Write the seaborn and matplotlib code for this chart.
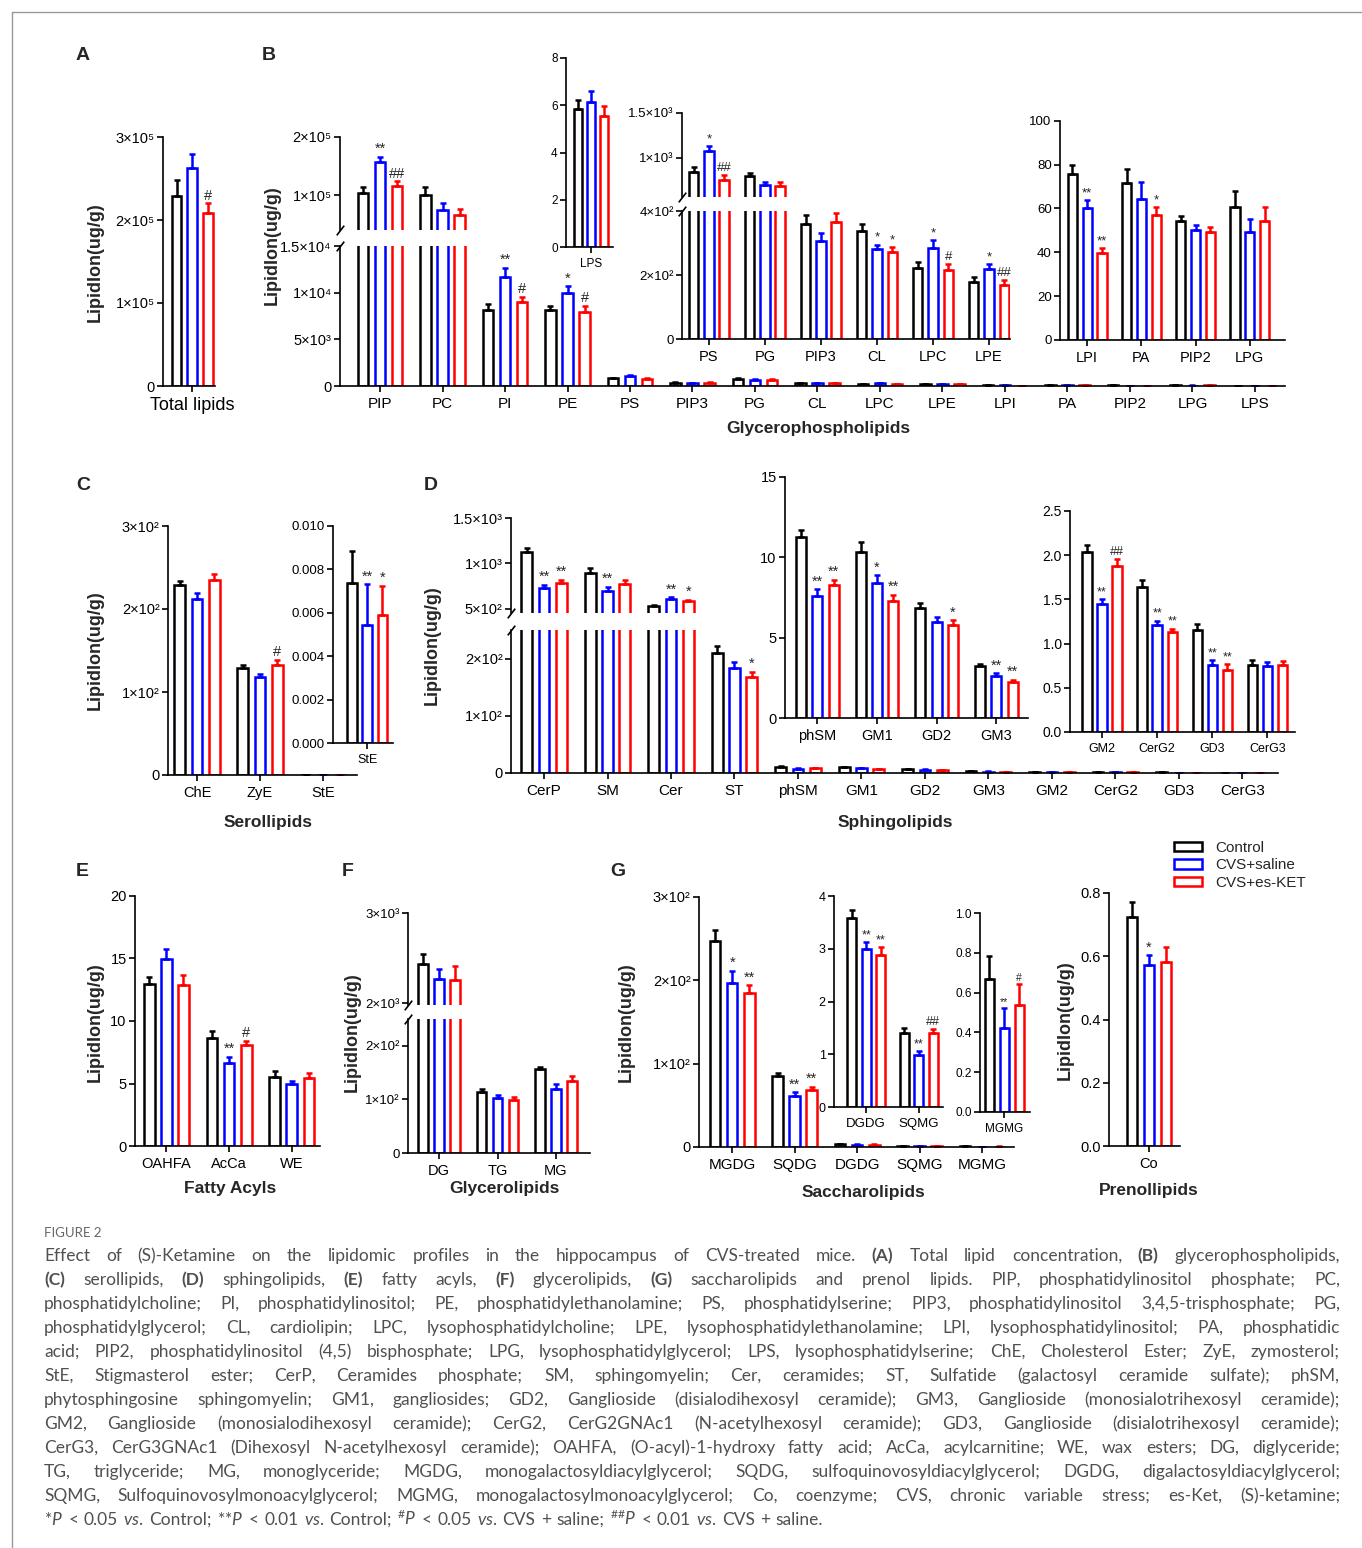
import numpy as np
import pandas as pd
import matplotlib
matplotlib.use("Agg")
import matplotlib.pyplot as plt
import seaborn as sns
from matplotlib.patches import Patch
from matplotlib.lines import Line2D

groups = ["Control", "CVS+saline", "CVS+es-KET"]
colors = ["#000000", "#0000ff", "#ff0000"]

# ---- data (mean and SEM) ----
total_names = ["Total lipids"]
total_ctrl = [2.29e5]
total_ctrl_sem = [0.19e5]
total_sal = [2.63e5]
total_sal_sem = [0.17e5]
total_ket = [2.08e5]
total_ket_sem = [0.12e5]
total_sig_sal = [""]
total_sig_ket = ["#"]

gp_names = ["PIP", "PC", "PI", "PE", "PS", "PIP3", "PG", "CL", "LPC", "LPE",
            "LPI", "PA", "PIP2", "LPG", "LPS"]
gp_ctrl = [1.04e5, 1.00e5, 8140, 8100, 837, 358, 796, 339, 222, 178, 75.5, 71.7, 54.1, 60.5, 5.84]
gp_ctrl_sem = [0.10e5, 0.15e5, 660, 470, 59, 29, 37, 20, 18, 16, 4.1, 6.3, 2.4, 7.6, 0.39]
gp_sal = [1.58e5, 0.75e5, 11640, 10000, 1074, 307, 696, 280, 284, 219, 60.3, 64.4, 50.2, 49.4, 6.12]
gp_sal_sem = [0.08e5, 0.12e5, 1040, 680, 56, 23, 37, 15, 25, 15, 3.4, 7.8, 2.2, 5.9, 0.47]
gp_ket = [1.17e5, 0.67e5, 9000, 7960, 752, 367, 681, 271, 216, 169, 39.8, 56.8, 49.1, 54.4, 5.54]
gp_ket_sem = [0.07e5, 0.10e5, 540, 610, 59, 26, 49, 16, 18, 15, 2.1, 3.8, 2.3, 6.2, 0.44]
gp_sig_sal = ["**", "", "**", "*", "*", "", "", "*", "*", "*", "**", "", "", "", ""]
gp_sig_ket = ["##", "", "#", "#", "##", "", "", "*", "#", "##", "**", "*", "", "", ""]

sero_names = ["ChE", "ZyE", "StE"]
sero_ctrl = [229, 128.5, 0.00738]
sero_ctrl_sem = [5, 4.5, 0.00147]
sero_sal = [212, 118, 0.00546]
sero_sal_sem = [7, 4, 0.00186]
sero_ket = [235, 133, 0.0059]
sero_ket_sem = [7, 5.5, 0.00135]
sero_sig_sal = ["", "", "**"]
sero_sig_ket = ["", "#", "*"]

sph_names = ["CerP", "SM", "Cer", "ST", "phSM", "GM1", "GD2", "GM3",
             "GM2", "CerG2", "GD3", "CerG3"]
sph_ctrl = [1125, 897, 529, 209, 11.25, 10.35, 6.85, 3.25, 2.04, 1.64, 1.15, 0.76]
sph_ctrl_sem = [40, 55, 19, 13, 0.45, 0.58, 0.28, 0.13, 0.07, 0.08, 0.07, 0.05]
sph_sal = [732, 695, 610, 184, 7.6, 8.42, 5.95, 2.62, 1.45, 1.21, 0.76, 0.75]
sph_sal_sem = [33, 48, 19, 10, 0.4, 0.48, 0.33, 0.15, 0.05, 0.05, 0.05, 0.04]
sph_ket = [787, 776, 585, 167, 8.3, 7.28, 5.8, 2.27, 1.88, 1.13, 0.70, 0.76]
sph_ket_sem = [37, 40, 18, 10, 0.3, 0.38, 0.3, 0.12, 0.08, 0.04, 0.07, 0.04]
sph_sig_sal = ["**", "**", "**", "", "**", "*", "", "**", "**", "**", "**", ""]
sph_sig_ket = ["**", "", "*", "*", "**", "**", "*", "**", "##", "**", "**", ""]

fa_names = ["OAHFA", "AcCa", "WE"]
fa_ctrl = [12.93, 8.67, 5.55]
fa_ctrl_sem = [0.62, 0.56, 0.45]
fa_sal = [14.93, 6.64, 4.96]
fa_sal_sem = [0.83, 0.51, 0.24]
fa_ket = [12.85, 8.08, 5.44]
fa_ket_sem = [0.83, 0.35, 0.43]
fa_sig_sal = ["", "**", ""]
fa_sig_ket = ["", "#", ""]

gl_names = ["DG", "TG", "MG"]
gl_ctrl = [2433, 113, 156]
gl_ctrl_sem = [115, 7, 5]
gl_sal = [2267, 103, 120]
gl_sal_sem = [111, 6, 8]
gl_ket = [2259, 98.4, 134.6]
gl_ket_sem = [156, 6.6, 8.4]
gl_sig_sal = ["", "", ""]
gl_sig_ket = ["", "", ""]

sac_names = ["MGDG", "SQDG", "DGDG", "SQMG", "MGMG"]
sac_ctrl = [247.6, 84.8, 3.59, 1.41, 0.667]
sac_ctrl_sem = [12.4, 4.0, 0.14, 0.08, 0.117]
sac_sal = [197, 61.6, 2.99, 0.98, 0.42]
sac_sal_sem = [14.6, 4.4, 0.14, 0.08, 0.103]
sac_ket = [184.8, 68.8, 2.89, 1.40, 0.539]
sac_ket_sem = [9.6, 3.6, 0.14, 0.08, 0.106]
sac_sig_sal = ["*", "**", "**", "**", "**"]
sac_sig_ket = ["**", "**", "**", "##", "#"]

pre_names = ["Co"]
pre_ctrl = [0.723]
pre_ctrl_sem = [0.049]
pre_sal = [0.571]
pre_sal_sem = [0.033]
pre_ket = [0.582]
pre_ket_sem = [0.047]
pre_sig_sal = ["*"]
pre_sig_ket = [""]

cap_lines = [
    "Effect of (S)-Ketamine on the lipidomic profiles in the hippocampus of CVS-treated mice. (A) Total lipid concentration, (B) glycerophospholipids,",
    "(C) serollipids, (D) sphingolipids, (E) fatty acyls, (F) glycerolipids, (G) saccharolipids and prenol lipids. PIP, phosphatidylinositol phosphate; PC,",
    "phosphatidylcholine; PI, phosphatidylinositol; PE, phosphatidylethanolamine; PS, phosphatidylserine; PIP3, phosphatidylinositol 3,4,5-trisphosphate; PG,",
    "phosphatidylglycerol; CL, cardiolipin; LPC, lysophosphatidylcholine; LPE, lysophosphatidylethanolamine; LPI, lysophosphatidylinositol; PA, phosphatidic",
    "acid; PIP2, phosphatidylinositol (4,5) bisphosphate; LPG, lysophosphatidylglycerol; LPS, lysophosphatidylserine; ChE, Cholesterol Ester; ZyE, zymosterol;",
    "StE, Stigmasterol ester; CerP, Ceramides phosphate; SM, sphingomyelin; Cer, ceramides; ST, Sulfatide (galactosyl ceramide sulfate); phSM,",
    "phytosphingosine sphingomyelin; GM1, gangliosides; GD2, Ganglioside (disialodihexosyl ceramide); GM3, Ganglioside (monosialotrihexosyl ceramide);",
    "GM2, Ganglioside (monosialodihexosyl ceramide); CerG2, CerG2GNAc1 (N-acetylhexosyl ceramide); GD3, Ganglioside (disialotrihexosyl ceramide);",
    "CerG3, CerG3GNAc1 (Dihexosyl N-acetylhexosyl ceramide); OAHFA, (O-acyl)-1-hydroxy fatty acid; AcCa, acylcarnitine; WE, wax esters; DG, diglyceride;",
    "TG, triglyceride; MG, monoglyceride; MGDG, monogalactosyldiacylglycerol; SQDG, sulfoquinovosyldiacylglycerol; DGDG, digalactosyldiacylglycerol;",
    "SQMG, Sulfoquinovosylmonoacylglycerol; MGMG, monogalactosylmonoacylglycerol; Co, coenzyme; CVS, chronic variable stress; es-Ket, (S)-ketamine;",
    r"*$P$ < 0.05 $vs.$ Control; **$P$ < 0.01 $vs.$ Control; $^{\#}P$ < 0.05 $vs.$ CVS + saline; $^{\#\#}P$ < 0.01 $vs.$ CVS + saline.",
]
bold_words = {"(A)", "(B)", "(C)", "(D)", "(E)", "(F)", "(G)"}

# ---- style ----
sns.set_style("ticks")
plt.rcParams["font.family"] = ["Liberation Sans", "DejaVu Sans"]
plt.rcParams["mathtext.fontset"] = "custom"
plt.rcParams["mathtext.rm"] = "Lato"
plt.rcParams["mathtext.it"] = "Lato:italic"
plt.rcParams["mathtext.bf"] = "Lato:bold"

W, H = 1362, 1548
fig = plt.figure(figsize=(W / 100, H / 100), dpi=100)
fig.patch.set_facecolor("white")

SUP = str.maketrans("0123456789", "⁰¹²³⁴⁵⁶⁷⁸⁹")


def sci(v):
    if v == 0:
        return "0"
    e = int(np.floor(np.log10(v) + 1e-9))
    m = v / 10 ** e
    return f"{m:g}×10" + str(e).translate(SUP)


def fmt_ticks(ticks, kind):
    if kind == "sci":
        return [sci(t) for t in ticks]
    if kind == "int":
        return [f"{t:g}" for t in ticks]
    return [f"{t:.{kind}f}" for t in ticks]


def add_ax(x0, y0, x1, y1):
    return fig.add_axes([x0 / W, 1 - y1 / H, (x1 - x0) / W, (y1 - y0) / H])


def make_table(names, ctrl, ctrl_sem, sal, sal_sem, ket, ket_sem, sig_sal, sig_ket):
    rows = []
    sigs = [[""] * len(names), sig_sal, sig_ket]
    for g, means, sems, sg in zip(groups, [ctrl, sal, ket], [ctrl_sem, sal_sem, ket_sem], sigs):
        for n, m, s, x in zip(names, means, sems, sg):
            rows.append(dict(lipid=n, group=g, mean=m, sem=s, sig=x))
    return pd.DataFrame(rows)


def draw(ax, tab, names, sig_names=(), sig_fs=10.5, cap=2.2):
    sub = tab[tab["lipid"].isin(names)]
    sns.barplot(data=sub, x="lipid", y="mean", hue="group", order=names,
                hue_order=groups, palette=colors, saturation=1, fill=False,
                width=0.82, gap=0.38, linewidth=1.8, errorbar=None,
                legend=False, ax=ax)
    bar_conts = list(ax.containers)[:3]
    for cont, g, c in zip(bar_conts, groups, colors):
        for bar in cont:
            xc = bar.get_x() + bar.get_width() / 2
            name = names[int(round(xc))]
            row = sub[(sub["lipid"] == name) & (sub["group"] == g)].iloc[0]
            ax.errorbar(xc, row["mean"], yerr=[[0], [row["sem"]]], fmt="none",
                        ecolor=c, elinewidth=1.8, capsize=cap, capthick=1.8)
            if name in sig_names and row["sig"]:
                ax.annotate(row["sig"], (xc, row["mean"] + row["sem"]),
                            xytext=(0, 0.5), textcoords="offset points",
                            ha="center", va="bottom", fontsize=sig_fs)


def style(ax, ylim, ticks, kind, yfs, xlim, xfs, bottom=True):
    ax.set_xlim(*xlim)
    ax.set_ylim(*ylim)
    ax.set_yticks(ticks)
    ax.set_yticklabels(fmt_ticks(ticks, kind), fontsize=yfs)
    ax.tick_params(length=4, width=1.2, pad=2, colors="k")
    ax.tick_params(axis="x", labelsize=xfs, pad=4)
    ax.set_xlabel("")
    ax.set_ylabel("")
    ax.patch.set_alpha(0)
    for s in ("top", "right"):
        ax.spines[s].set_visible(False)
    for s in ("left", "bottom"):
        ax.spines[s].set_linewidth(1.2)
        ax.spines[s].set_color("k")
    if not bottom:
        ax.spines["bottom"].set_visible(False)
        ax.tick_params(axis="x", bottom=False, labelbottom=False)


def brk(ax, ypos):
    ax.plot([0], [ypos], transform=ax.transAxes, marker=[(-1, -1.3), (1, 1.3)],
            markersize=7, linestyle="none", color="k", mec="k", mew=1.2, clip_on=False)


total_tab = make_table(total_names, total_ctrl, total_ctrl_sem, total_sal, total_sal_sem,
                       total_ket, total_ket_sem, total_sig_sal, total_sig_ket)
gp_tab = make_table(gp_names, gp_ctrl, gp_ctrl_sem, gp_sal, gp_sal_sem,
                    gp_ket, gp_ket_sem, gp_sig_sal, gp_sig_ket)
sero_tab = make_table(sero_names, sero_ctrl, sero_ctrl_sem, sero_sal, sero_sal_sem,
                      sero_ket, sero_ket_sem, sero_sig_sal, sero_sig_ket)
sph_tab = make_table(sph_names, sph_ctrl, sph_ctrl_sem, sph_sal, sph_sal_sem,
                     sph_ket, sph_ket_sem, sph_sig_sal, sph_sig_ket)
fa_tab = make_table(fa_names, fa_ctrl, fa_ctrl_sem, fa_sal, fa_sal_sem,
                    fa_ket, fa_ket_sem, fa_sig_sal, fa_sig_ket)
gl_tab = make_table(gl_names, gl_ctrl, gl_ctrl_sem, gl_sal, gl_sal_sem,
                    gl_ket, gl_ket_sem, gl_sig_sal, gl_sig_ket)
sac_tab = make_table(sac_names, sac_ctrl, sac_ctrl_sem, sac_sal, sac_sal_sem,
                     sac_ket, sac_ket_sem, sac_sig_sal, sac_sig_ket)
pre_tab = make_table(pre_names, pre_ctrl, pre_ctrl_sem, pre_sal, pre_sal_sem,
                     pre_ket, pre_ket_sem, pre_sig_sal, pre_sig_ket)

# ---- A: total lipids ----
ax = add_ax(163, 137, 215, 386)
draw(ax, total_tab, total_names, total_names)
style(ax, (0, 3e5), [0, 1e5, 2e5, 3e5], "sci", 10.5, (-0.51, 0.40), 13)

# ---- B: glycerophospholipids (broken axis) ----
axl = add_ax(340, 246, 1285, 386)
axu = add_ax(340, 137, 1285, 230)
sig_b = ["PIP", "PC", "PI", "PE"]
for a in (axl, axu):
    draw(a, gp_tab, gp_names, sig_b)
style(axl, (0, 1.5e4), [0, 5e3, 1e4, 1.5e4], "sci", 10.5, (-0.64, 14.48), 11)
style(axu, (4.1e4, 2e5), [1e5, 2e5], "sci", 10.5, (-0.64, 14.48), 11, bottom=False)
brk(axl, 1)
brk(axu, 0)

ax = add_ax(566, 58, 613, 247)
draw(ax, gp_tab, ["LPS"], ["LPS"], sig_fs=9)
style(ax, (0, 8), [0, 2, 4, 6, 8], "int", 8.5, (-0.525, 0.46), 8.5)

b2 = ["PS", "PG", "PIP3", "CL", "LPC", "LPE"]
axl = add_ax(682, 211, 1010, 339)
axu = add_ax(682, 112.7, 1010, 197)
for a in (axl, axu):
    draw(a, gp_tab, b2, b2, sig_fs=9.5)
style(axl, (0, 400), [0, 200, 400], "sci", 9.5, (-0.48, 5.375), 10.5)
style(axu, (563, 1500), [1000, 1500], "sci", 9.5, (-0.48, 5.375), 10.5, bottom=False)
brk(axl, 1)
brk(axu, 0)

b3 = ["LPI", "PA", "PIP2", "LPG"]
ax = add_ax(1060, 120.7, 1285, 340)
draw(ax, gp_tab, b3, b3, sig_fs=9.5)
style(ax, (0, 100), [0, 20, 40, 60, 80, 100], "int", 9.5, (-0.5, 3.65), 10.5)

# ---- C: serollipids ----
ax = add_ax(168, 526, 357, 775)
draw(ax, sero_tab, sero_names, ["ChE", "ZyE"])
style(ax, (0, 300), [0, 100, 200, 300], "sci", 10.5, (-0.46, 2.54), 10.5)

ax = add_ax(333, 526, 393, 743)
draw(ax, sero_tab, ["StE"], ["StE"])
style(ax, (0, 0.010), [0, 0.002, 0.004, 0.006, 0.008, 0.010], 3, 9.5, (-0.62, 0.47), 9)

# ---- D: sphingolipids (broken axis) ----
axl = add_ax(511, 630, 1278, 773)
axu = add_ax(511, 518, 1278, 613)
sig_d = ["CerP", "SM", "Cer", "ST"]
for a in (axl, axu):
    draw(a, sph_tab, sph_names, sig_d)
style(axl, (0, 250), [0, 100, 200], "sci", 10.5, (-0.52, 11.56), 11)
style(axu, (456, 1500), [500, 1000, 1500], "sci", 10.5, (-0.52, 11.56), 11, bottom=False)
brk(axl, 1)
brk(axu, 0)

d1 = ["phSM", "GM1", "GD2", "GM3"]
ax = add_ax(785, 477, 1028, 718)
draw(ax, sph_tab, d1, d1)
style(ax, (0, 15), [0, 5, 10, 15], "int", 10.5, (-0.54, 3.53), 10.5)

d2 = ["GM2", "CerG2", "GD3", "CerG3"]
ax = add_ax(1070, 511, 1295, 732)
draw(ax, sph_tab, d2, d2, sig_fs=9)
style(ax, (0, 2.5), [0, 0.5, 1.0, 1.5, 2.0, 2.5], 1, 10, (-0.58, 3.5), 9)

# ---- E: fatty acyls ----
ax = add_ax(135, 896, 320, 1146)
draw(ax, fa_tab, fa_names, fa_names)
style(ax, (0, 20), [0, 5, 10, 15, 20], "int", 10.5, (-0.5, 2.45), 10.5)

# ---- F: glycerolipids (broken axis) ----
axl = add_ax(408, 1019, 590, 1153)
axu = add_ax(408, 913, 590, 1004.7)
for a in (axl, axu):
    draw(a, gl_tab, gl_names, gl_names)
style(axl, (0, 250), [0, 100, 200], "sci", 9.5, (-0.53, 2.58), 10.5)
style(axu, (1985, 3000), [2000, 3000], "sci", 9.5, (-0.53, 2.58), 10.5, bottom=False)
brk(axl, 1)
brk(axu, 0)

# ---- G: saccharolipids and prenol lipids ----
ax = add_ax(699, 897, 1014, 1147)
draw(ax, sac_tab, sac_names, ["MGDG", "SQDG"])
style(ax, (0, 300), [0, 100, 200, 300], "sci", 10.5, (-0.53, 4.51), 11)

g1 = ["DGDG", "SQMG"]
ax = add_ax(834, 896, 943, 1107)
draw(ax, sac_tab, g1, g1, sig_fs=9)
style(ax, (0, 4), [0, 1, 2, 3, 4], "int", 9, (-0.61, 1.46), 9.5)

ax = add_ax(980, 913, 1030, 1112)
draw(ax, sac_tab, ["MGMG"], ["MGMG"], sig_fs=7.5)
style(ax, (0, 1.0), [0, 0.2, 0.4, 0.6, 0.8, 1.0], 1, 8.5, (-0.44, 0.47), 8.5)

ax = add_ax(1109, 893, 1180, 1146)
draw(ax, pre_tab, pre_names, pre_names)
style(ax, (0, 0.8), [0, 0.2, 0.4, 0.6, 0.8], 1, 10.5, (-0.645, 0.5), 10.5)

# ---- labels ----
def ftext(x, y, s, **kw):
    return fig.text(x / W, 1 - y / H, s, **kw)


for x, y in [(95, 262), (272, 245), (95, 650), (432, 645), (95, 1022), (352, 1032),
             (626, 1022), (1065, 1020)]:
    ftext(x, y, "LipidIon(ug/g)", rotation=90, ha="center", va="center",
          fontsize=13, fontweight="bold")

for x, y, s in [(818, 429, "Glycerophospholipids"), (268, 822, "Serollipids"),
                (895, 822, "Sphingolipids"), (230, 1188, "Fatty Acyls"),
                (504, 1188, "Glycerolipids"), (863, 1192, "Saccharolipids"),
                (1149, 1190, "Prenollipids")]:
    ftext(x, y, s, ha="center", va="center", fontsize=12.5, fontweight="bold")

for x, y, s in [(76, 55, "A"), (262, 55, "B"), (76, 486, "C"), (424, 486, "D"),
                (76, 871, "E"), (342, 871, "F"), (610, 871, "G")]:
    ftext(x, y, s, ha="left", va="center", fontsize=14, fontweight="bold")

handles = [Patch(facecolor="none", edgecolor=c, linewidth=1.8) for c in colors]
fig.legend(handles, groups, loc="upper left", bbox_to_anchor=(1174 / W, 1 - 841 / H),
           frameon=False, fontsize=11, handlelength=1.8, handleheight=0.55,
           labelspacing=0.22, handletextpad=0.9, borderaxespad=0, borderpad=0)

# frame
fig.add_artist(Line2D([12 / W, 12 / W], [0, 1 - 12 / H], color="#999999", lw=1))
fig.add_artist(Line2D([12 / W, 1], [1 - 12 / H, 1 - 12 / H], color="#999999", lw=1))

# ---- caption (justified, word by word) ----
cap_col = "#505050"
cap_font = "Lato"
base_fs = 12.5
ftext(44, 1233, "FIGURE 2", ha="left", va="center", fontsize=9.5, color="#666666",
      family=cap_font)

cap_left, cap_right = 44, 1340
line_texts = []
for line in cap_lines:
    ws = []
    for w in line.split(" "):
        t = fig.text(0, 0, w, fontsize=base_fs, family=cap_font, color=cap_col,
                     fontweight="bold" if w in bold_words else "normal",
                     ha="left", va="baseline")
        ws.append(t)
    line_texts.append(ws)

r = fig.canvas.get_renderer()
space = base_fs * 100 / 72 * 0.22
widths = [[t.get_window_extent(r).width for t in ws] for ws in line_texts]
need = max(sum(wd) + space * (len(wd) - 1) for wd in widths[:-1])
scale = min(1.0, (cap_right - cap_left) / need)
for ws in line_texts:
    for t in ws:
        t.set_fontsize(base_fs * scale)
widths = [[t.get_window_extent(r).width for t in ws] for ws in line_texts]
for i, (ws, wd) in enumerate(zip(line_texts, widths)):
    yb = 1 - (1261 + 24 * i) / H
    if i < len(line_texts) - 1:
        gap = (cap_right - cap_left - sum(wd)) / (len(wd) - 1)
    else:
        gap = space * scale * 1.4
    x = cap_left
    for t, w in zip(ws, wd):
        t.set_position((x / W, yb))
        x += w + gap

fig.savefig("out.png", dpi=100)
